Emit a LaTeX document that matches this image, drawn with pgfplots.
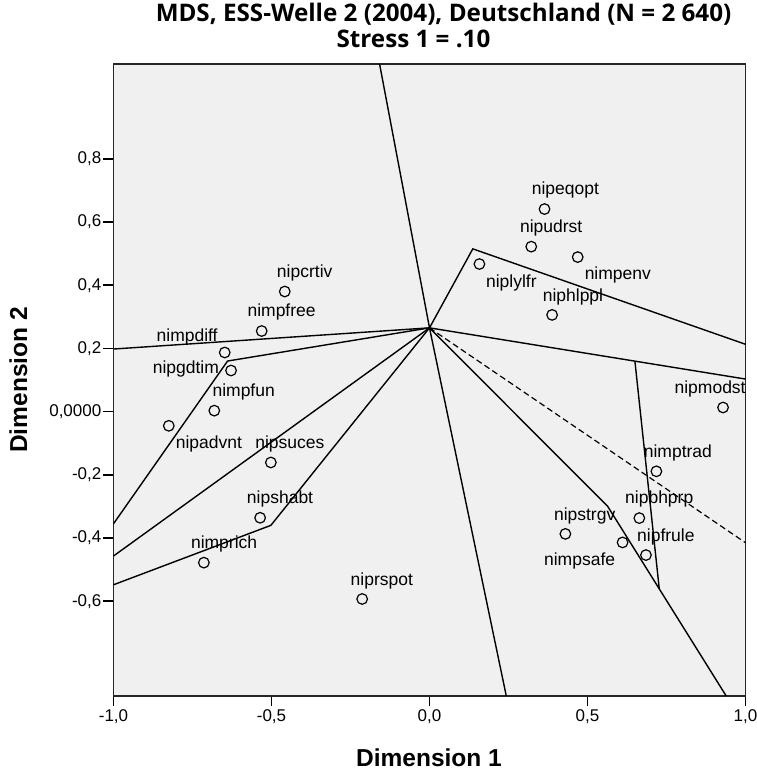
\documentclass[border=0pt]{standalone}
\usepackage{pgfplots}
\pgfplotsset{compat=1.18}
\usepackage{pgfplotstable}
\usepackage{fontspec}
\setmainfont{Liberation Sans}
\newfontfamily\titlefont{Open Sans}
\definecolor{bg}{HTML}{F0F0F0}
\pgfplotstableread{
name x y lx ly
nipeqopt 0.364 0.641 0.430 0.702
nipudrst 0.322 0.522 0.385 0.580
nimpenv 0.469 0.489 0.596 0.433
niplylfr 0.158 0.467 0.259 0.408
niphlppl 0.388 0.306 0.454 0.364
nipcrtiv -0.458 0.380 -0.395 0.440
nimpfree -0.531 0.255 -0.468 0.315
nimpdiff -0.648 0.187 -0.767 0.235
nipgdtim -0.628 0.130 -0.771 0.135
nimpfun -0.681 0.003 -0.588 0.063
nipadvnt -0.825 -0.045 -0.698 -0.102
nipsuces -0.502 -0.161 -0.442 -0.102
nipshabt -0.536 -0.336 -0.473 -0.277
nimprich -0.714 -0.478 -0.650 -0.419
niprspot -0.213 -0.593 -0.151 -0.535
nipmodst 0.929 0.013 0.888 0.071
nimptrad 0.718 -0.189 0.786 -0.130
nipbhprp 0.664 -0.337 0.727 -0.277
nipstrgv 0.430 -0.387 0.491 -0.330
nimpsafe 0.611 -0.414 0.475 -0.472
nipfrule 0.685 -0.454 0.748 -0.396
}\pts
\begin{document}
\begin{tikzpicture}
\path[use as bounding box] (-113.5pt,-75pt) rectangle (643.5pt,696pt);
\begin{axis}[
  at={(0pt,0pt)}, anchor=south west,
  scale only axis, width=632pt, height=632pt,
  xmin=-1, xmax=1, ymin=-0.9, ymax=1.1,
  axis background/.style={fill=bg},
  axis line style={line width=1.3pt, black!85},
  xtick={-1,-0.5,0,0.5,1},
  xticklabels={{-1,0},{-0,5},{0,0},{0,5},{1,0}},
  ytick={-0.6,-0.4,-0.2,0,0.2,0.4,0.6,0.8},
  yticklabels={{-0,6},{-0,4},{-0,2},{0,0000},{0,2},{0,4},{0,6},{0,8}},
  tick align=outside, xtick pos=bottom, ytick pos=left,
  major tick length=10pt,
  tick style={black, line width=1.5pt},
  tick label style={font=\fontsize{17}{17}\selectfont},
  xticklabel style={inner sep=3pt},
  yticklabel style={inner sep=2pt},
  clip=true,
]
\addplot[black, line width=1.4pt, mark=none] coordinates {(0,0.265) (-0.158,1.1)};
\addplot[black, line width=1.4pt, mark=none] coordinates {(0,0.265) (0.243,-0.9)};
\addplot[black, line width=1.4pt, mark=none] coordinates {(-1,0.198) (0,0.265)};
\addplot[black, line width=1.4pt, mark=none] coordinates {(0,0.265) (-0.639,0.160) (-1,-0.355)};
\addplot[black, line width=1.4pt, mark=none] coordinates {(0,0.265) (-1,-0.457)};
\addplot[black, line width=1.4pt, mark=none] coordinates {(0,0.265) (-0.502,-0.360) (-1,-0.548)};
\addplot[black, line width=1.4pt, mark=none] coordinates {(0,0.265) (1,0.103)};
\addplot[black, line width=1.4pt, mark=none] coordinates {(0.650,0.160) (0.727,-0.560)};
\addplot[black, line width=1.4pt, mark=none] coordinates {(0,0.265) (0.564,-0.300) (0.939,-0.9)};
\addplot[black, line width=1.2pt, dash pattern=on 6pt off 3.5pt, mark=none] coordinates {(0,0.265) (1,-0.415)};
\addplot[black, line width=1.4pt, mark=none] coordinates {(0,0.265) (0.137,0.515) (1,0.213)};
\addplot[only marks, mark=o, mark size=5.3pt, mark options={line width=1.2pt, black}] table[x=x,y=y]{\pts};
\addplot[draw=none, mark=none, nodes near coords, point meta=explicit symbolic,
  nodes near coords style={anchor=center, inner sep=0pt, text=black, font=\fontsize{17.5}{18}\selectfont}]
  table[x=lx,y=ly,meta=name]{\pts};
\end{axis}
\node[font=\titlefont\bfseries\fontsize{24.2}{24.2}\selectfont] at (330pt,682pt) {MDS, ESS-Welle 2 (2004), Deutschland (N = 2 640)};
\node[font=\titlefont\bfseries\fontsize{24.2}{24.2}\selectfont] at (300pt,657pt) {Stress 1 = .10};
\node[font=\bfseries\fontsize{24.5}{24.5}\selectfont] at (315.5pt,-62pt) {Dimension 1};
\node[rotate=90, font=\bfseries\fontsize{24.5}{24.5}\selectfont] at (-95.2pt,316pt) {Dimension 2};
\end{tikzpicture}
\end{document}
